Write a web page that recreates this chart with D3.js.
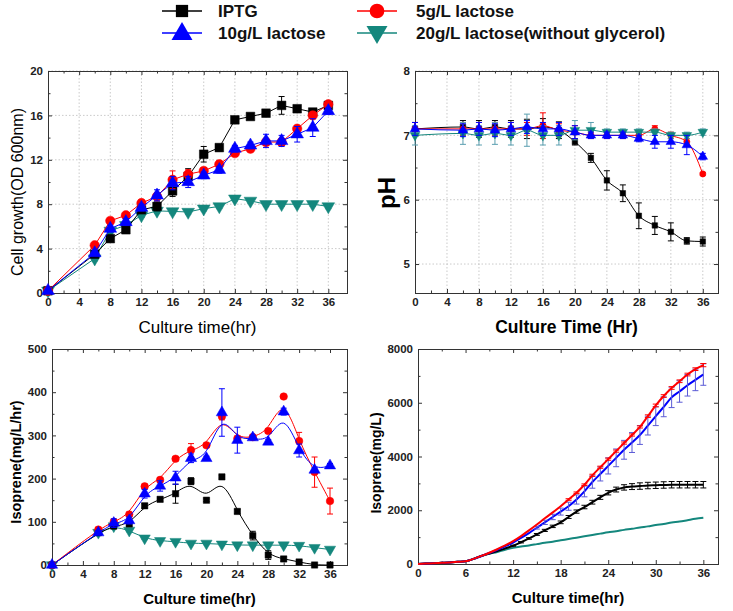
<!DOCTYPE html>
<html><head><meta charset="utf-8">
<script src="https://cdn.jsdelivr.net/npm/d3@7"></script>
<style>
body{margin:0;background:#fff;}
svg{display:block;}
.tick text{font-family:"Liberation Sans Narrow","Liberation Sans",Arial,sans-serif;font-weight:bold;font-size:11.5px;fill:#222;}
</style></head>
<body><svg id="c" width="733" height="611"></svg>
<script>
// ---------- data ----------
const seriesNames = ["IPTG", "5g/L lactose", "10g/L lactose", "20g/L lactose(without glycerol)"];
const timeA = [0,6,8,10,12,14,16,18,20,22,24,26,28,30,32,34,36];

// Panel 1: cell growth (OD600)
const odIPTG = [0.2,3.5,4.9,5.7,7.5,7.8,9.2,10.5,12.5,13.1,15.6,15.9,16.2,16.9,16.6,16.3,16.9];
const odIPTGerr = [0,0.2,0.2,0.3,0.3,0.4,0.5,0.7,0.7,0.3,0.2,0.2,0.2,0.8,0.2,0.2,0.3];
const od5 = [0.2,4.3,6.5,7.0,8.1,8.7,10.2,10.7,11.0,11.6,12.6,13.0,13.6,13.6,14.8,16.0,17.0];
const od5err = [0,0.2,0.2,0.2,0.3,0.3,0.8,0.4,0.3,0.3,0.3,0.3,0.3,0.3,0.3,0.3,0.2];
const od10 = [0.2,3.6,5.8,6.4,7.7,8.8,9.9,10.0,10.6,11.1,13.0,13.3,13.7,13.7,14.3,14.9,16.4];
const od10err = [0,0.2,0.3,0.3,0.3,0.5,0.6,0.5,0.3,0.3,0.3,0.3,0.6,0.5,0.7,0.8,0.3];
const od20 = [0.2,3.1,5.6,6.1,7.0,7.4,7.35,7.3,7.6,7.8,8.5,8.3,8.0,8.0,8.0,8.0,7.8];
const od20err = [0,0.2,0.2,0.2,0.2,0.2,0.2,0.2,0.2,0.2,0.2,0.2,0.2,0.2,0.2,0.2,0.2];

// Panel 2: pH
const phIPTG = [7.1,7.13,7.1,7.13,7.1,7.1,7.13,7.08,6.9,6.65,6.3,6.1,5.75,5.6,5.5,5.36,5.35];
const phIPTGerr = [0.1,0.1,0.13,0.1,0.13,0.15,0.13,0.13,0.05,0.07,0.15,0.13,0.2,0.14,0.14,0.05,0.07];
const ph5 = [7.1,7.1,7.1,7.1,7.1,7.1,7.15,7.08,7.05,7.0,7.0,7.0,7.0,7.1,7.0,6.9,6.4];
const ph5err = [0.1,0.1,0.1,0.1,0.1,0.1,0.2,0.1,0.1,0.05,0.05,0.05,0.05,0.05,0.05,0.05,0.02];
const ph10 = [7.1,7.08,7.1,7.08,7.1,7.13,7.1,7.1,7.05,7.0,7.0,7.0,6.95,6.9,6.9,6.85,6.67];
const ph10err = [0.1,0.1,0.1,0.1,0.1,0.1,0.1,0.1,0.1,0.05,0.05,0.05,0.05,0.1,0.1,0.15,0.05];
const ph20 = [7.0,7.03,7.0,7.03,7.0,7.08,7.0,7.0,7.08,7.08,7.05,7.05,7.05,7.05,7.0,7.0,7.05];
const ph20err = [0.15,0.17,0.15,0.17,0.15,0.25,0.15,0.15,0.15,0.12,0.05,0.05,0.05,0.05,0.05,0.05,0.05];

// Panel 3: isoprene production rate (mg/L/hr)
const rIPTG = [0,75,90,95,137,152,165,194,150,204,124,68,23,14,7,0,0];
const rIPTGerr = [0,5,5,5,5,5,22,8,3,3,5,10,10,5,3,2,2];
const r5 = [0,82,100,117,182,197,246,266,277,344,293,296,310,390,287,215,148];
const r5err = [0,5,5,5,5,5,5,15,5,8,5,5,5,3,20,35,30];
const r10 = [0,75,97,103,165,183,202,247,247,353,289,295,285,355,265,220,230];
const r10err = [0,5,10,8,10,12,15,10,5,55,30,5,5,8,15,5,5];
const r20 = [0,75,90,80,62,56,54,50,50,48,46,46,46,46,45,40,36];
const r20err = [0,3,3,3,3,3,3,3,3,3,3,3,3,3,3,3,3];

// Panel 4: cumulative isoprene (mg/L), hourly
const timeB = d3.range(0,37);
const cIPTG = [0,15,30,45,60,80,100,190,300,390,480,580,680,810,950,1100,1250,1400,1550,1750,1950,2120,2300,2480,2650,2770,2850,2880,2900,2920,2930,2940,2950,2950,2950,2950,2950];
const cIPTGerr = [0,0,0,0,0,0,0,0,0,0,0,0,20,25,30,35,40,45,50,55,60,65,70,75,80,90,100,110,120,120,120,120,120,120,120,120,120];
const c5 = [0,15,30,45,60,80,100,190,300,420,550,690,850,1040,1250,1470,1700,1920,2150,2400,2650,2950,3300,3600,3900,4200,4500,4800,5100,5500,5900,6250,6550,6800,7050,7250,7400];
const c5err = [0,0,0,0,0,0,0,0,0,0,0,0,0,0,0,0,0,0,0,30,30,30,40,40,40,40,40,40,40,50,50,50,50,50,50,50,60];
const c10 = [0,15,30,45,60,80,100,190,300,410,530,660,800,970,1150,1350,1550,1750,1950,2150,2400,2700,3050,3350,3650,3950,4250,4520,4800,5150,5500,5850,6200,6420,6650,6850,7050];
const c10err = [0,0,0,0,0,0,0,0,0,0,0,0,0,0,0,50,80,100,130,150,170,200,230,260,300,330,350,370,350,350,350,370,380,400,400,400,400];
const c20 = [0,15,30,45,60,80,100,190,300,380,450,530,600,650,690,740,790,830,880,930,980,1030,1080,1130,1180,1220,1270,1310,1360,1400,1450,1490,1540,1580,1630,1680,1720];

const colors = ["#000000","#ff0000","#0000ff","#14877d"];
const symbols = [d3.symbolSquare, d3.symbolCircle, d3.symbolTriangle, d3.symbolTriangle];
const flips = [false,false,false,true];

// ---------- drawing ----------
const svg = d3.select("#c");
const FONT = '"Liberation Sans",Arial,sans-serif';
const NARROW = '"Liberation Sans Narrow","Liberation Sans",Arial,sans-serif';

function sym(i, size){
  return d3.symbol().type(symbols[i]).size(size)();
}

function panel(cfg){
  const x = d3.scaleLinear().domain(cfg.xd).range(cfg.xr);
  const y = d3.scaleLinear().domain(cfg.yd).range(cfg.yr);
  const g = svg.append("g");
  const [x0,x1] = cfg.xr, [y0,y1] = cfg.yr; // y0 bottom, y1 top
  // grid
  if(cfg.grid){
    const gg = g.append("g").attr("stroke","#bdbdbd").attr("stroke-width",0.8).attr("stroke-dasharray","1.5,2");
    cfg.xt.forEach(v=>{ if(v>cfg.xd[0]) gg.append("line").attr("x1",x(v)).attr("x2",x(v)).attr("y1",y0).attr("y2",y1);});
    cfg.yt.forEach(v=>{ if(v>cfg.yd[0]) gg.append("line").attr("x1",x0).attr("x2",x1).attr("y1",y(v)).attr("y2",y(v));});
  }
  // axes
  g.append("g").attr("transform",`translate(0,${y0})`)
    .call(d3.axisBottom(x).tickValues(cfg.xt).tickSize(-4).tickPadding(5).tickFormat(d3.format("d")));
  g.append("g").attr("transform",`translate(0,${y0})`)
    .call(d3.axisBottom(x).tickValues(cfg.xm).tickSize(-2.5).tickFormat(""));
  g.append("g").attr("transform",`translate(0,${y1})`)
    .call(d3.axisTop(x).tickValues(cfg.xt).tickSize(-4).tickFormat(""));
  g.append("g").attr("transform",`translate(0,${y1})`)
    .call(d3.axisTop(x).tickValues(cfg.xm).tickSize(-2.5).tickFormat(""));
  g.append("g").attr("transform",`translate(${x0},0)`)
    .call(d3.axisLeft(y).tickValues(cfg.yt).tickSize(-4).tickPadding(5).tickFormat(d3.format("d")));
  g.append("g").attr("transform",`translate(${x0},0)`)
    .call(d3.axisLeft(y).tickValues(cfg.ym).tickSize(-2.5).tickFormat(""));
  g.append("g").attr("transform",`translate(${x1},0)`)
    .call(d3.axisRight(y).tickValues(cfg.yt).tickSize(-4).tickFormat(""));
  g.append("g").attr("transform",`translate(${x1},0)`)
    .call(d3.axisRight(y).tickValues(cfg.ym).tickSize(-2.5).tickFormat(""));
  g.selectAll(".domain").attr("stroke","#333").attr("stroke-width",1);
  g.selectAll(".tick line").attr("stroke","#333");
  // titles
  g.append("text").attr("x",(x0+x1)/2+cfg.xtOff).attr("y",cfg.xtY).attr("text-anchor","middle")
    .style("font-family",cfg.xtFont).style("font-weight",cfg.xtW).style("font-size",cfg.xtS+"px").text(cfg.xTitle);
  g.append("text").attr("transform",`translate(${cfg.ytX},${cfg.ytYc}) rotate(-90)`).attr("text-anchor","middle")
    .attr("dominant-baseline","central")
    .style("font-family",cfg.ytFont).style("font-weight",cfg.ytW).style("font-size",cfg.ytS+"px").text(cfg.yTitle);
  // series
  const plot = g.append("g");
  cfg.series.forEach(s=>{
    const pts = s.t.map((t,i)=>({t, v:s.v[i], e: s.e ? s.e[i] : 0}));
    const c = colors[s.i];
    const line = d3.line().x(d=>x(d.t)).y(d=>y(d.v)).curve(cfg.curve);
    plot.append("path").datum(pts).attr("d",line).attr("fill","none").attr("stroke",c).attr("stroke-width",cfg.lw);
    const eb = plot.append("g").attr("stroke",s.ec||c).attr("stroke-width",1);
    pts.filter(d=>d.e>0).forEach(d=>{
      const px=x(d.t), ya=y(d.v+d.e), yb=y(d.v-d.e), w=cfg.cap;
      eb.append("line").attr("x1",px).attr("x2",px).attr("y1",ya).attr("y2",yb);
      eb.append("line").attr("x1",px-w).attr("x2",px+w).attr("y1",ya).attr("y2",ya);
      eb.append("line").attr("x1",px-w).attr("x2",px+w).attr("y1",yb).attr("y2",yb);
    });
    if(cfg.msize){
      const sz = cfg.msize[s.i];
      plot.append("g").selectAll("path").data(pts).join("path")
        .attr("d", sym(s.i, sz))
        .attr("transform",d=>`translate(${x(d.t)},${y(d.v)})${flips[s.i]?" rotate(180)":""}`)
        .attr("fill",c).attr("stroke",c).attr("stroke-width",0.5);
    }
  });
}

// Panel 1
panel({
  xd:[0,38.4], xr:[48,347], yd:[0,20], yr:[293,71],
  xt:[0,4,8,12,16,20,24,28,32,36], xm:d3.range(2,38,4),
  yt:[0,4,8,12,16,20], ym:[2,6,10,14,18], grid:true,
  xTitle:"Culture time(hr)", xtY:333, xtOff:0, xtFont:NARROW, xtW:"normal", xtS:17,
  yTitle:"Cell growth(OD 600nm)", ytX:17, ytYc:192, ytFont:FONT, ytW:"normal", ytS:16,
  curve:d3.curveLinear, lw:1, cap:3,
  msize:[75,70,70,70],
  series:[
    {i:3,t:timeA,v:od20,e:od20err},
    {i:0,t:timeA,v:odIPTG,e:odIPTGerr},
    {i:1,t:timeA,v:od5,e:od5err},
    {i:2,t:timeA,v:od10,e:od10err}
  ]
});

// Panel 2
panel({
  xd:[0,37.9], xr:[415,718], yd:[4.55,8], yr:[293,71],
  xt:[0,4,8,12,16,20,24,28,32,36], xm:d3.range(2,38,4),
  yt:[5,6,7,8], ym:[5.5,6.5,7.5], grid:true,
  xTitle:"Culture Time (Hr)", xtY:333, xtOff:0, xtFont:NARROW, xtW:"bold", xtS:17.5,
  yTitle:"pH", ytX:386, ytYc:193, ytFont:FONT, ytW:"bold", ytS:24,
  curve:d3.curveMonotoneX, lw:1, cap:3,
  msize:[30,30,40,40],
  series:[
    {i:0,t:timeA,v:phIPTG,e:phIPTGerr},
    {i:1,t:timeA,v:ph5,e:ph5err},
    {i:3,t:timeA,v:ph20,e:ph20err,ec:"#5a9fb0"},
    {i:2,t:timeA,v:ph10,e:ph10err}
  ]
});

// Panel 3
panel({
  xd:[0,38.2], xr:[52,347], yd:[0,500], yr:[565,349],
  xt:[0,4,8,12,16,20,24,28,32,36], xm:d3.range(2,38,4),
  yt:[0,100,200,300,400,500], ym:[50,150,250,350,450], grid:false,
  xTitle:"Culture time(hr)", xtY:604, xtOff:0, xtFont:FONT, xtW:"bold", xtS:15,
  yTitle:"Isoprene(mg/L/hr)", ytX:16, ytYc:462, ytFont:FONT, ytW:"bold", ytS:14.5,
  curve:d3.curveBasis, lw:1, cap:3,
  msize:[40,45,55,55],
  series:[
    {i:3,t:timeA,v:r20,e:r20err},
    {i:0,t:timeA,v:rIPTG,e:rIPTGerr},
    {i:1,t:timeA,v:r5,e:r5err},
    {i:2,t:timeA,v:r10,e:r10err}
  ]
});

// Panel 4
panel({
  xd:[0,37.85], xr:[418,718], yd:[0,8000], yr:[564,349],
  xt:[0,6,12,18,24,30,36], xm:[3,9,15,21,27,33],
  yt:[0,2000,4000,6000,8000], ym:[1000,3000,5000,7000], grid:false,
  xTitle:"Culture time(hr)", xtY:603, xtOff:0, xtFont:FONT, xtW:"bold", xtS:15,
  yTitle:"Isoprene(mg/L)", ytX:376, ytYc:463, ytFont:FONT, ytW:"bold", ytS:14,
  curve:d3.curveMonotoneX, lw:2, cap:3,
  msize:null,
  series:[
    {i:3,t:timeB,v:c20},
    {i:0,t:timeB,v:cIPTG,e:cIPTGerr},
    {i:2,t:timeB,v:c10,e:c10err,ec:"#5b5bd6"},
    {i:1,t:timeB,v:c5,e:c5err}
  ]
});

// ---------- legend ----------
const leg = svg.append("g");
const legPos = [[182,11],[377,11],[182,33],[377,33]];
seriesNames.forEach((n,i)=>{
  const [cx,cy] = legPos[i];
  leg.append("line").attr("x1",cx-20).attr("x2",cx+20).attr("y1",cy).attr("y2",cy).attr("stroke",colors[i]).attr("stroke-width",1.5);
  const sz = [150,170,190,190][i];
  leg.append("path").attr("d",sym(i,sz))
    .attr("transform",`translate(${cx},${cy+(i>=2?(flips[i]?-1:1):0)})${flips[i]?" rotate(180)":""}`)
    .attr("fill",colors[i]);
  leg.append("text").attr("x",cx+36+(i%2?3:0)).attr("y",cy).attr("dominant-baseline","central")
    .style("font-family",FONT).style("font-weight","bold").style("font-size","17px").attr("fill","#111").text(n);
});
</script></body></html>
